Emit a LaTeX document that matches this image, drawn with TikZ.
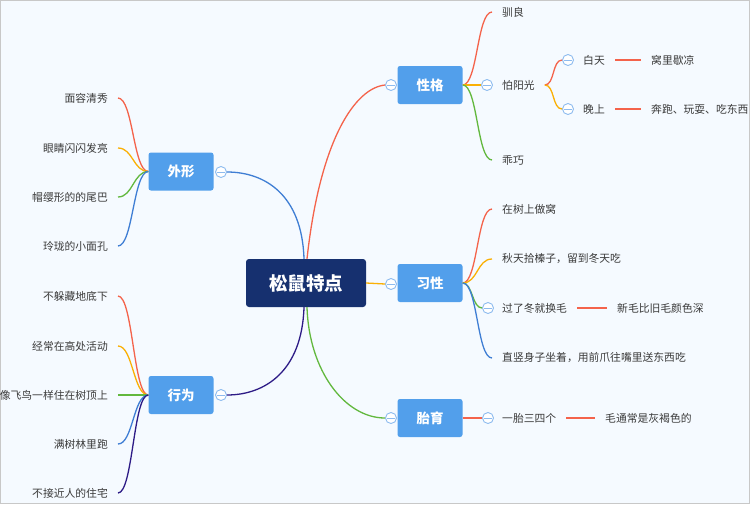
\documentclass[tikz,border=0pt]{standalone}
\usepackage{fontspec}
\setmainfont{Noto Sans CJK SC}

\definecolor{bgc}{HTML}{F5FAFF}
\definecolor{framec}{HTML}{C8C8C8}
\definecolor{rootc}{HTML}{16306F}
\definecolor{boxc}{HTML}{529FEB}
\definecolor{foldc}{HTML}{8DBBEF}
\definecolor{txtc}{HTML}{3A3A3A}
\definecolor{lred}{HTML}{F4634B}
\definecolor{lorange}{HTML}{FAB005}
\definecolor{lgreen}{HTML}{62B83E}
\definecolor{lblue}{HTML}{3F7ED4}
\definecolor{lpurple}{HTML}{2D1B86}

\tikzset{
  root/.style={fill=rootc, rounded corners=3pt, minimum width=120pt, minimum height=48pt,
    text=white, font=\fontsize{18.5}{20}\selectfont\bfseries},
  topic/.style={fill=boxc, rounded corners=2.5pt, minimum width=65pt, minimum height=38pt,
    text=white, font=\fontsize{13.5}{15}\selectfont\bfseries},
  lleaf/.style={anchor=east, inner xsep=10pt, inner ysep=2pt, text=txtc,
    font=\fontsize{10.8}{13}\selectfont},
  rleaf/.style={lleaf, anchor=west},
  fold/.style={circle, draw=foldc, fill=white, line width=0.9pt, minimum size=11pt, inner sep=0pt,
    path picture={\draw[foldc, line width=0.9pt]
      ([xshift=-4pt]path picture bounding box.center) -- ([xshift=4pt]path picture bounding box.center);}},
  link/.style={line width=1.3pt}
}

\begin{document}
\begin{tikzpicture}[x=1pt, y=-1pt]
\useasboundingbox (0,0) rectangle (750,504);
\fill[bgc] (0,0) rectangle (750,504);
\draw[framec, line width=1pt] (0.5,0.5) rectangle (749.5,503.5);

\node[root] (root) at (306,283) {松鼠特点};
\node[topic] (wx) at (181,171.5) {外形};
\node[topic] (xw) at (181,395) {行为};
\node[topic] (xg) at (430,85) {性格};
\node[topic] (xx) at (430,283) {习性};
\node[topic] (ty) at (430,418) {胎育};

\node[fold] (fwx) at (221,172) {};
\node[fold] (fxw) at (221,395) {};
\node[fold] (fxg) at (391,85) {};
\node[fold] (fxx) at (391,284) {};
\node[fold] (fty) at (391,418) {};

\draw[link, lblue] ([xshift=-2pt]root.north) .. controls +(-2,-64) and +(38,0) .. (fwx.east);
\draw[link, lred] ([xshift=1pt]root.north) .. controls +(13,-119) and +(-30,3) .. (fxg.west);
\draw[link, lpurple] ([xshift=-2pt]root.south) .. controls +(-2,64) and +(38,0) .. (fxw.east);
\draw[link, lgreen] ([xshift=1pt]root.south) .. controls +(2,64) and +(-40,0) .. (fty.west);
\draw[link, lorange] (root.east) -- (fxx.west);

\node[lleaf] (w1) at (118,98) {面容清秀};
\node[lleaf] (w2) at (118,148) {眼睛闪闪发亮};
\node[lleaf] (w3) at (118,197) {帽缨形的的尾巴};
\node[lleaf] (w4) at (118,246) {玲珑的小面孔};
\draw[link, lred] (wx.west) .. controls +(-15,0) and +(15,0) .. (w1.east);
\draw[link, lorange] (wx.west) .. controls +(-15,0) and +(15,0) .. (w2.east);
\draw[link, lgreen] (wx.west) .. controls +(-15,0) and +(15,0) .. (w3.east);
\draw[link, lblue] (wx.west) .. controls +(-15,0) and +(15,0) .. (w4.east);

\node[lleaf] (b1) at (118,296) {不躲藏地底下};
\node[lleaf] (b2) at (118,346) {经常在高处活动};
\node[lleaf] (b3) at (118,395) {像飞鸟一样住在树顶上};
\node[lleaf] (b4) at (118,444) {满树林里跑};
\node[lleaf] (b5) at (118,493) {不接近人的住宅};
\draw[link, lred] (xw.west) .. controls +(-15,0) and +(15,0) .. (b1.east);
\draw[link, lorange] (xw.west) .. controls +(-15,0) and +(15,0) .. (b2.east);
\draw[link, lgreen] (xw.west) -- (b3.east);
\draw[link, lblue] (xw.west) .. controls +(-15,0) and +(15,0) .. (b4.east);
\draw[link, lpurple] (xw.west) .. controls +(-15,0) and +(15,0) .. (b5.east);

\node[rleaf] (g1) at (492,12) {驯良};
\node[fold] (fg2) at (487,85) {};
\node[rleaf] (g2) at (492,85) {怕阳光};
\node[rleaf] (g3) at (492,160) {乖巧};
\draw[link, lred] (xg.east) .. controls +(15,0) and +(-15,0) .. (g1.west);
\draw[link, lorange] (xg.east) -- (fg2.west);
\draw[link, lgreen] (xg.east) .. controls +(15,0) and +(-15,0) .. (g3.west);

\node[fold] (fd) at (568,60) {};
\node[rleaf] (d1) at (573,60) {白天};
\node[rleaf] (d2) at (641,60) {窝里歇凉};
\node[fold] (fn) at (568,109) {};
\node[rleaf] (n1) at (573,109) {晚上};
\node[rleaf] (n2) at (641,109) {奔跑、玩耍、吃东西};
\draw[link, lred] (g2.east) .. controls +(10,0) and +(-10,0) .. (fd.west);
\draw[link, lorange] (g2.east) .. controls +(10,0) and +(-10,0) .. (fn.west);
\draw[link, lred] (d1.east) -- (d2.west);
\draw[link, lred] (n1.east) -- (n2.west);

\node[rleaf] (h1) at (492,209) {在树上做窝};
\node[rleaf] (h2) at (492,259) {秋天拾榛子，留到冬天吃};
\node[fold] (fh3) at (488,308) {};
\node[rleaf] (h3) at (492,308) {过了冬就换毛};
\node[rleaf] (h4) at (492,358) {直竖身子坐着，用前爪往嘴里送东西吃};
\node[rleaf] (h5) at (607,308) {新毛比旧毛颜色深};
\draw[link, lred] (xx.east) .. controls +(15,0) and +(-15,0) .. (h1.west);
\draw[link, lorange] (xx.east) .. controls +(15,0) and +(-15,0) .. (h2.west);
\draw[link, lgreen] (xx.east) .. controls +(10,0) and +(-10,0) .. (fh3.west);
\draw[link, lblue] (xx.east) .. controls +(15,0) and +(-15,0) .. (h4.west);
\draw[link, lred] (h3.east) -- (h5.west);

\node[fold] (ft1) at (488,418) {};
\node[rleaf] (t1) at (492,418) {一胎三四个};
\node[rleaf] (t2) at (595,418) {毛通常是灰褐色的};
\draw[link, lred] (ty.east) -- (ft1.west);
\draw[link, lred] (t1.east) -- (t2.west);
\end{tikzpicture}
\end{document}
